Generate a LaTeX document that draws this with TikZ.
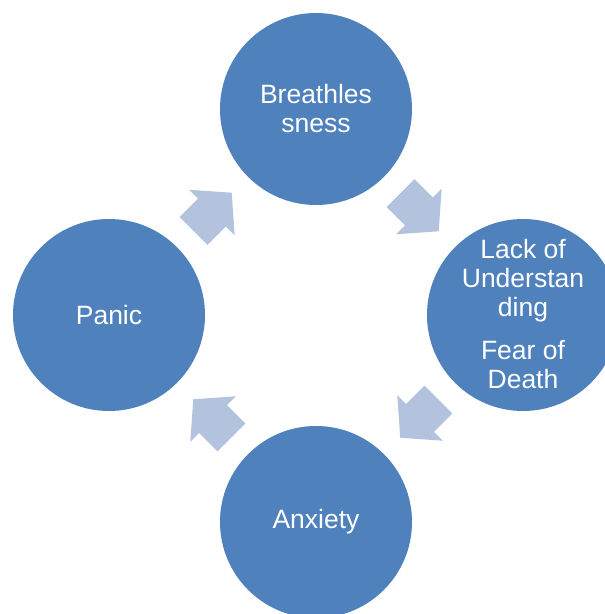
\documentclass[tikz,border=0pt]{standalone}
\usepackage{fontspec}
\setmainfont{Liberation Sans}
\usetikzlibrary{shapes.arrows,calc}
\definecolor{stageblue}{HTML}{4F81BD}
\definecolor{flowblue}{HTML}{B3C3DE}
\begin{document}
\begin{tikzpicture}[x=1pt,y=-1pt,
  stage/.style={circle,fill=stageblue,minimum size=192pt,inner sep=0pt},
  stagetext/.style={text=white,align=center,inner sep=0pt,
    font=\fontsize{26.5}{29}\selectfont},
  flow/.style={single arrow,fill=flowblue,inner xsep=0pt,inner ysep=19.5pt,
    minimum height=54pt,anchor=tail,
    single arrow head extend=12.5pt,single arrow tip angle=98}]
\clip (0,0) rectangle (605,614);
\fill[white] (0,0) rectangle (605,614);

% the four stages of the cycle
\node[stage] (breath)  at (316,109) {};
\node[stage] (lack)    at (523,315) {};
\node[stage] (anxiety) at (316,522) {};
\node[stage] (panic)   at (109,315) {};

\node[stagetext] (breathtext)   at (breath.center)  {Breathles\\sness};
\node[stagetext] (lacktext)     at ($(lack.center)+(0,-1)$) {Lack of\\Understan\\ding\\[14pt]Fear of\\Death};
\node[stagetext] (anxietytext)  at (anxiety.center) {Anxiety};
\node[stagetext] (panictext)    at (panic.center)   {Panic};

% block arrows between neighbouring stages, clockwise;
% each one sits centred on the midpoint between the two stages
\node[flow,rotate=-45] (f1) at ($(breath)!0.5!(lack)!27pt!(breath)$) {};
\node[flow,rotate=225] (f2) at ($(lack)!0.5!(anxiety)!27pt!(lack)$) {};
\node[flow,rotate=135] (f3) at ($(anxiety)!0.5!(panic)!27pt!(anxiety)$) {};
\node[flow,rotate=45]  (f4) at ($(panic)!0.5!(breath)!27pt!(panic)$) {};
\end{tikzpicture}
\end{document}
